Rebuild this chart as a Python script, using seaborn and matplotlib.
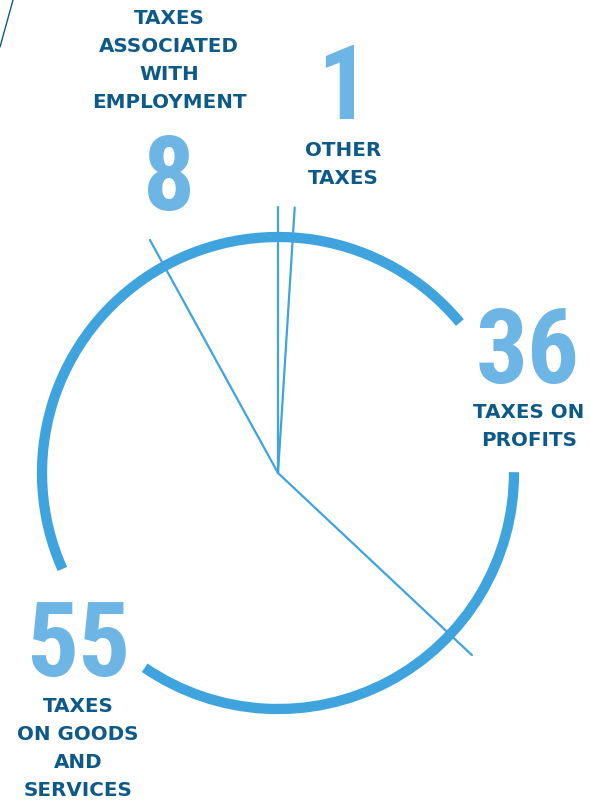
import numpy as np
import pandas as pd
import matplotlib
matplotlib.use("Agg")
import matplotlib.pyplot as plt
from matplotlib.patches import Arc
from matplotlib import font_manager
import seaborn as sns

# ---- data (clockwise from 12 o'clock) ----
categories = ["OTHER\nTAXES", "TAXES ON\nPROFITS", "TAXES\nON GOODS\nAND\nSERVICES",
              "TAXES\nASSOCIATED\nWITH\nEMPLOYMENT"]
values = [1, 36, 55, 8]
value_labels = ["1", "36", "55", "8"]

sns.set_theme(style="white")

names = {f.name for f in font_manager.fontManager.ttflist}
num_family = "DejaVu Sans"
for cand in ["Liberation Sans Narrow", "Roboto Condensed", "Roboto"]:
    if cand in names:
        num_family = cand
        break
lab_family = "DejaVu Sans"

RING = "#3fa4de"
NUM = "#6cb5e5"
LAB = "#0d5a88"

W, H = 590, 802
fig = plt.figure(figsize=(W / 100, H / 100), dpi=100)
ax = fig.add_axes([0, 0, 1, 1])
ax.set_xlim(0, W)
ax.set_ylim(0, H)
ax.axis("off")

cx, cy = 278, H - 473
R = 236
L = 266

# radial boundary lines from cumulative shares
bounds = np.concatenate([[0], np.cumsum(values)[:-1]]) / np.sum(values) * 360.0
rows = []
for i, b in enumerate(bounds):
    th = np.deg2rad(90 - b)
    rows.append({"x": cx, "y": cy, "u": i})
    rows.append({"x": cx + L * np.cos(th), "y": cy + L * np.sin(th), "u": i})
df = pd.DataFrame(rows)
sns.lineplot(data=df, x="x", y="y", units="u", estimator=None, sort=False,
             color=RING, linewidth=1.6, ax=ax, legend=False)

# ring with two gaps
for t1, t2 in [(39.6, 204.0), (-124.4, 0.2)]:
    ax.add_patch(Arc((cx, cy), 2 * R, 2 * R, theta1=t1, theta2=t2,
                     color=RING, linewidth=7.4, capstyle="butt"))

# stray corner line
ax.plot([0, 13], [H - 47, H - 0], color=LAB, linewidth=1.0)

ax.set_xlim(0, W)
ax.set_ylim(0, H)
ax.set_xlabel("")
ax.set_ylabel("")

# ---- labels ----
num_pos = [(343, 119), (528, 383), (78, 676), (169, 210)]   # x centre, baseline
lab_first = [(343, 150), (529, 412), (78, 707), (169, 18)]
step = 28

for lbl, v, (nx, ny), (lx, ly) in zip(categories, value_labels, num_pos, lab_first):
    ax.text(nx, H - ny, v, ha="center", va="baseline", color=NUM,
            fontsize=74, fontweight="bold", family=num_family)
    for k, line in enumerate(lbl.split("\n")):
        ax.text(lx, H - (ly + k * step), line, ha="center", va="center",
                color=LAB, fontsize=14.3, fontweight="bold", family=lab_family)

fig.savefig("out.png", dpi=100)
